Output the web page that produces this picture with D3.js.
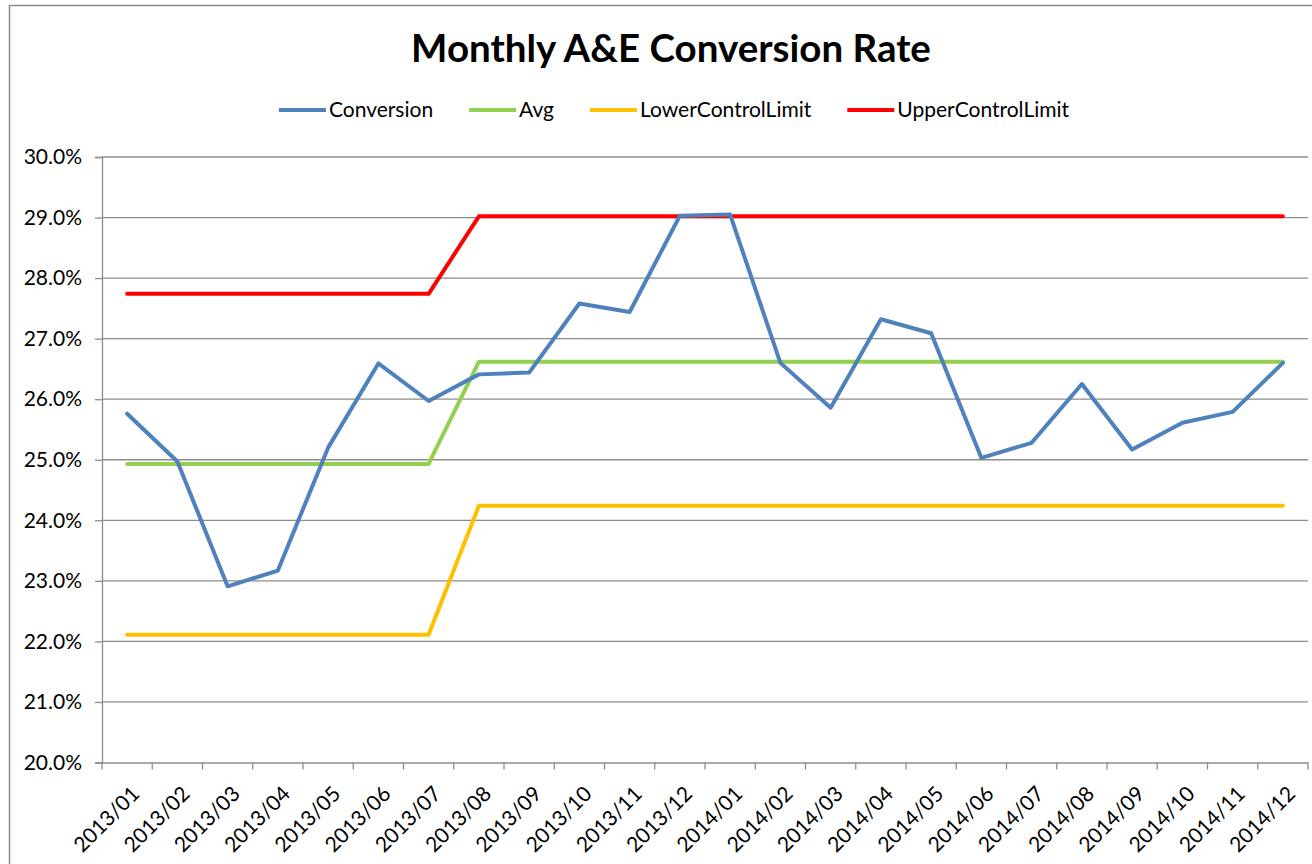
<!DOCTYPE html>
<html>
<head>
<meta charset="utf-8">
<script src="https://cdn.jsdelivr.net/npm/d3@7"></script>
<style>
  html, body { margin: 0; padding: 0; background: #fff; }
  svg { display: block; }
  text { font-family: Lato, "Open Sans", sans-serif; fill: #000; }
</style>
</head>
<body>
<svg id="chart" width="1312" height="864"></svg>
<script>
const categories = ["2013/01","2013/02","2013/03","2013/04","2013/05","2013/06","2013/07","2013/08","2013/09","2013/10","2013/11","2013/12",
                    "2014/01","2014/02","2014/03","2014/04","2014/05","2014/06","2014/07","2014/08","2014/09","2014/10","2014/11","2014/12"];
const conversion = [0.2576,0.2497,0.2291,0.2317,0.2520,0.2659,0.2597,0.2641,0.2644,0.2758,0.2744,0.2903,
                    0.2905,0.2660,0.2586,0.2732,0.2709,0.2503,0.2528,0.2625,0.2517,0.2561,0.2579,0.2660];
const avg = [0.2493,0.2493,0.2493,0.2493,0.2493,0.2493,0.2493,0.2662,0.2662,0.2662,0.2662,0.2662,
             0.2662,0.2662,0.2662,0.2662,0.2662,0.2662,0.2662,0.2662,0.2662,0.2662,0.2662,0.2662];
const lowerControlLimit = [0.2211,0.2211,0.2211,0.2211,0.2211,0.2211,0.2211,0.2424,0.2424,0.2424,0.2424,0.2424,
                           0.2424,0.2424,0.2424,0.2424,0.2424,0.2424,0.2424,0.2424,0.2424,0.2424,0.2424,0.2424];
const upperControlLimit = [0.2774,0.2774,0.2774,0.2774,0.2774,0.2774,0.2774,0.2902,0.2902,0.2902,0.2902,0.2902,
                           0.2902,0.2902,0.2902,0.2902,0.2902,0.2902,0.2902,0.2902,0.2902,0.2902,0.2902,0.2902];
const yTicks = [0.20,0.21,0.22,0.23,0.24,0.25,0.26,0.27,0.28,0.29,0.30];
const seriesNames = ["Conversion","Avg","LowerControlLimit","UpperControlLimit"];
const seriesColors = ["#4f81bd","#92d050","#ffc000","#ff0000"];
const seriesData = [conversion, avg, lowerControlLimit, upperControlLimit];
const titleText = "Monthly A&E Conversion Rate";

const svg = d3.select("#chart");
const W = 1312, H = 864;
const plot = {left: 102, right: 1308, top: 157, bottom: 762.5};
const gray = "#8c8c8c";

svg.append("rect").attr("x",0).attr("y",0).attr("width",W).attr("height",H).attr("fill","#fff");
// outer chart border
svg.append("rect").attr("x",9.5).attr("y",5.5).attr("width",1340).attr("height",900)
  .attr("fill","none").attr("stroke","#8a8a8a").attr("stroke-width",1.5);

const x = d3.scaleBand().domain(categories).range([plot.left, plot.right]).padding(0);
const y = d3.scaleLinear().domain([0.20,0.30]).range([plot.bottom, plot.top]);

// gridlines
svg.append("g").selectAll("line").data(yTicks.slice(1)).join("line")
  .attr("x1", plot.left).attr("x2", plot.right)
  .attr("y1", d => y(d)).attr("y2", d => y(d))
  .attr("stroke", gray).attr("stroke-width", 1.3);

// y axis
const yAxis = d3.axisLeft(y).tickValues(yTicks).tickFormat(d3.format(".1%")).tickSize(7).tickPadding(13);
const gy = svg.append("g").attr("transform", `translate(${plot.left},0)`).call(yAxis);
gy.select(".domain").attr("stroke", gray).attr("stroke-width", 1.3);
gy.selectAll(".tick line").attr("stroke", gray).attr("stroke-width", 1.3);
gy.selectAll(".tick text").attr("font-size", 21).attr("fill", "#000")
  .style("font-family", "Lato, 'Open Sans', sans-serif");

// x axis
const xAxis = d3.axisBottom(x).tickSize(0).tickFormat("");
const gx = svg.append("g").attr("transform", `translate(0,${plot.bottom})`).call(xAxis);
gx.select(".domain").attr("stroke", gray).attr("stroke-width", 1.3);
// boundary tick marks
const boundaries = categories.map(c => x(c)).concat([x(categories[categories.length-1]) + x.bandwidth()]);
svg.append("g").selectAll("line").data(boundaries).join("line")
  .attr("x1", d => d).attr("x2", d => d)
  .attr("y1", plot.bottom).attr("y2", plot.bottom + 7)
  .attr("stroke", gray).attr("stroke-width", 1.3);
// rotated labels
svg.append("g").selectAll("text").data(categories).join("text")
  .attr("transform", d => `translate(${x(d) + x.bandwidth()/2 + 3},${plot.bottom + 22}) rotate(-45)`)
  .attr("text-anchor", "end").attr("dy", "0.72em")
  .attr("font-size", 21).text(d => d);

// lines
const line = d3.line().x((d,i) => x(categories[i]) + x.bandwidth()/2).y(d => y(d));
const order = [3,2,1,0];
svg.append("g").selectAll("path").data(order).join("path")
  .attr("d", k => line(seriesData[k]))
  .attr("fill","none").attr("stroke", k => seriesColors[k])
  .attr("stroke-width", 4).attr("stroke-linejoin","round").attr("stroke-linecap","round");

// title
svg.append("text").attr("x", 671).attr("y", 62).attr("text-anchor","middle")
  .attr("font-size", 38.5).attr("font-weight", "bold").text(titleText);

// legend
const legend = svg.append("g");
const items = legend.selectAll("g").data(seriesNames).join("g");
items.append("line").attr("x1",0).attr("x2",47).attr("y1",0).attr("y2",0)
  .attr("stroke",(d,i)=>seriesColors[i]).attr("stroke-width",4);
items.append("text").attr("x",50).attr("y",0).attr("dy","0.35em").attr("font-size",21).text(d=>d);
let cur = 0;
items.each(function(){
  const g = d3.select(this);
  g.attr("transform", `translate(${cur},0)`);
  cur += 50 + g.select("text").node().getComputedTextLength() + 36;
});
const total = cur - 36;
legend.attr("transform", `translate(${674 - total/2},110)`);
</script>
</body>
</html>
